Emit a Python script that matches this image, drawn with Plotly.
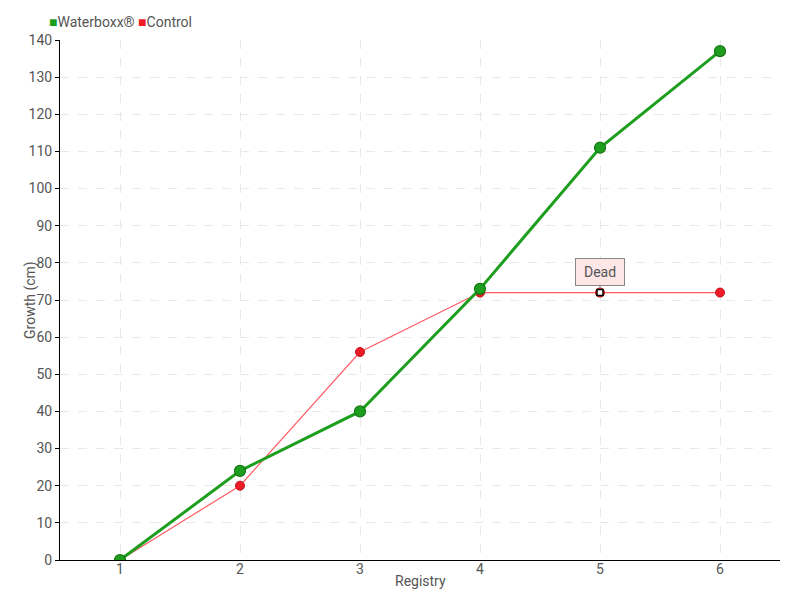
import plotly.graph_objects as go

registry = [1, 2, 3, 4, 5, 6]
waterboxx = [0, 24, 40, 73, 111, 137]
control = [0, 20, 56, 72, 72, 72]
series_names = ["Waterboxx®", "Control"]
dead_index = 4
dead_label = "Dead"
y_ticks = list(range(0, 141, 10))
x_title = "Registry"
y_title = "Growth (cm)"

FONT = "Roboto, Liberation Sans, sans-serif"
GREEN = "#1e9e1e"
RED = "#ee1c25"
TXT = "#555555"

fig = go.Figure()
fig.add_trace(go.Scatter(
    x=registry, y=control, mode="lines+markers", name=series_names[1], showlegend=False,
    line=dict(color="#ff5a62", width=1.2),
    marker=dict(size=9, color=RED, line=dict(color="#c0101a", width=1)),
))
fig.add_trace(go.Scatter(
    x=registry, y=waterboxx, mode="lines+markers", name=series_names[0], showlegend=False,
    line=dict(color=GREEN, width=3),
    marker=dict(size=11, color=GREEN, line=dict(color="#147514", width=1.2)),
))
fig.add_trace(go.Scatter(
    x=[registry[dead_index]], y=[control[dead_index]], mode="markers", showlegend=False,
    marker=dict(size=6, symbol="square", color="white", line=dict(color="black", width=1.5)),
    hoverinfo="skip",
))

# Legend drawn as one annotation with coloured squares
legend_html = (f'<span style="color:{GREEN}">■</span>{series_names[0]} '
               f'<span style="color:{RED}">■</span>{series_names[1]}')
fig.add_annotation(
    xref="paper", yref="paper", x=-0.018, y=1.0, xanchor="left", yanchor="bottom",
    yshift=8, text=legend_html, showarrow=False,
    font=dict(family=FONT, size=14, color=TXT),
)

fig.add_annotation(
    x=registry[dead_index], y=control[dead_index], text=dead_label,
    showarrow=True, arrowhead=0, arrowcolor="#777777", arrowwidth=1,
    ax=0, ay=-21, standoff=4, width=38,
    bgcolor="#fde6e6", bordercolor="#888888", borderwidth=1, borderpad=5,
    font=dict(family=FONT, size=14, color=TXT),
)

# Axis titles
fig.add_annotation(
    xref="paper", yref="paper", x=0.5, y=0, yshift=-21, xanchor="center", yanchor="middle",
    text=x_title, showarrow=False, font=dict(family=FONT, size=14, color=TXT),
)
fig.add_annotation(
    xref="paper", yref="paper", x=0, y=0.5, xshift=-30, xanchor="center", yanchor="middle",
    text=y_title, textangle=-90, showarrow=False, font=dict(family=FONT, size=14, color=TXT),
)

fig.update_layout(
    width=800, height=600,
    margin=dict(l=52, r=28, t=32, b=48, autoexpand=False),
    plot_bgcolor="white", paper_bgcolor="white",
    font=dict(family=FONT, size=14, color=TXT),
    showlegend=False,
    xaxis=dict(
        range=[0.5, 6.5], tickmode="array", tickvals=registry, ticktext=[str(r) for r in registry],
        showline=True, linecolor="black", linewidth=1, ticks="", automargin=False,
        ticklabelstandoff=-4,
        showgrid=True, gridcolor="#e8e8e8", griddash="dash", zeroline=False,
        tickfont=dict(family=FONT, size=14, color=TXT),
    ),
    yaxis=dict(
        range=[0, 140], tickmode="array", tickvals=y_ticks, automargin=False,
        showline=True, linecolor="black", linewidth=1, ticks="outside", ticklen=4,
        tickcolor="black", showgrid=True, gridcolor="#e8e8e8", griddash="dash", zeroline=False,
        tickfont=dict(family=FONT, size=14, color=TXT),
    ),
)

fig.write_html("out.html")
